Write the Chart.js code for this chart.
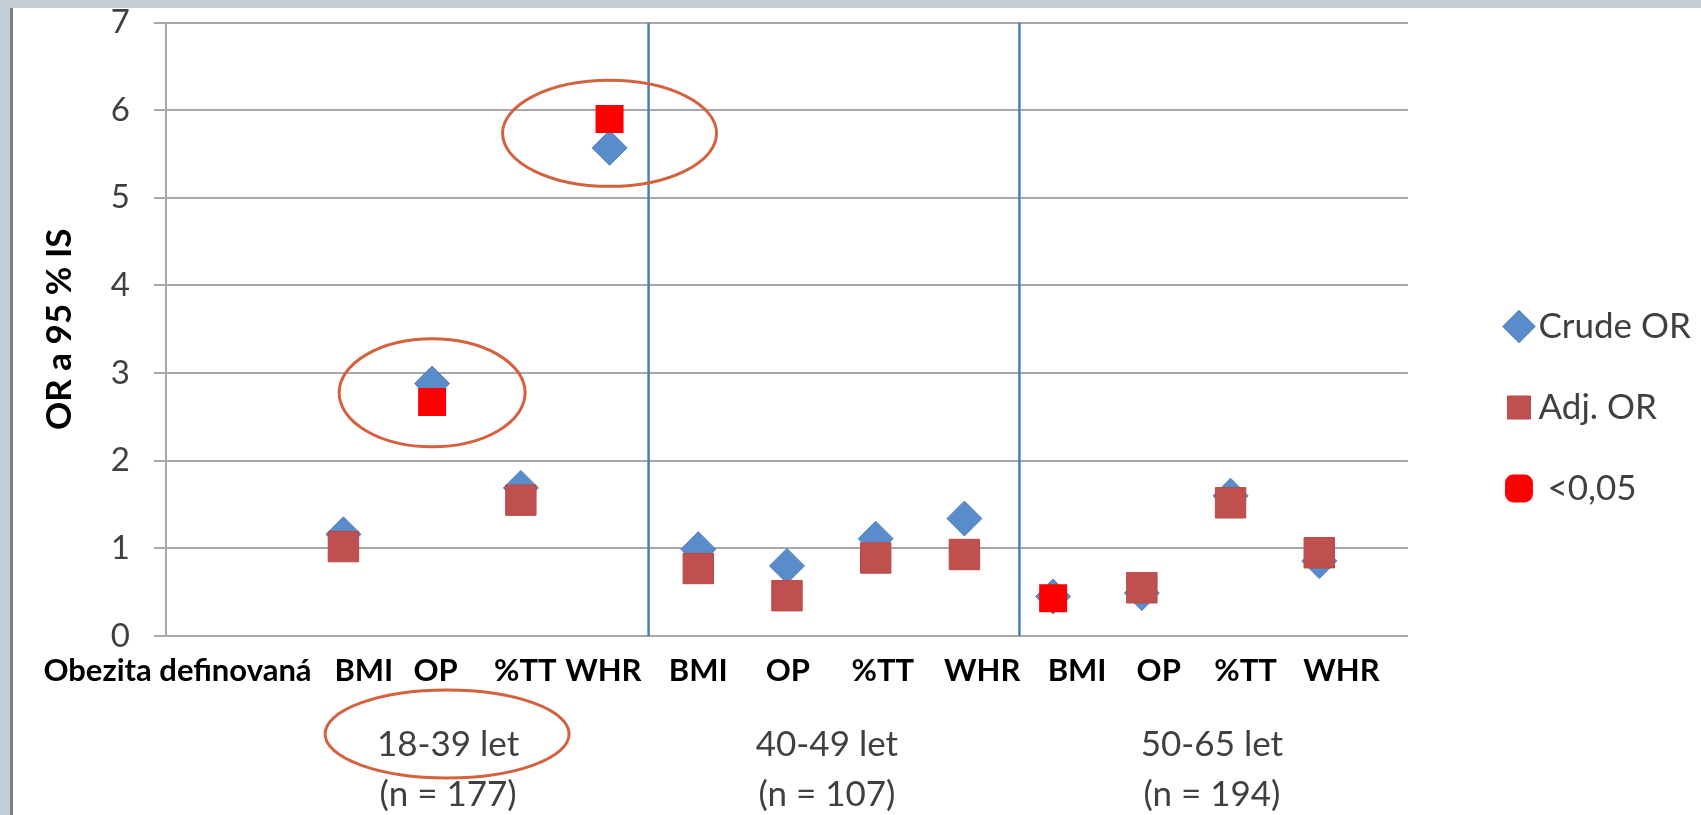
<!DOCTYPE html>
<html lang="cs">
<head>
<meta charset="utf-8">
<title>OR a 95 % IS podle definice obezity a věkové skupiny</title>
<script src="https://cdn.jsdelivr.net/npm/chart.js@4.4.1/dist/chart.umd.min.js"></script>
<style>
  html, body { margin: 0; padding: 0; width: 1701px; height: 815px; overflow: hidden; background: #c5cfd7; }
  #panel { position: absolute; left: 10px; top: 8px; right: 0; bottom: 0; background: #ffffff; border-left: 3px solid #7f7f7f; }
  #chart { position: absolute; left: 0; top: 0; }
</style>
</head>
<body>
<div id="panel"></div>
<canvas id="chart" width="1701" height="815"></canvas>
<script>
// ---- data -------------------------------------------------------------
const measures    = ['BMI', 'OP', '%TT', 'WHR', 'BMI', 'OP', '%TT', 'WHR', 'BMI', 'OP', '%TT', 'WHR'];
const crudeOR     = [1.16, 2.88, 1.69, 5.57, 0.99, 0.80, 1.11, 1.34, 0.45, 0.49, 1.60, 0.855];
const adjOR       = [1.02, 2.67, 1.55, 5.90, 0.77, 0.46, 0.89, 0.93, 0.43, 0.55, 1.52, 0.95];
const significant = [false, true, false, true, false, false, false, false, true, false, false, false];
const rowTitle    = 'Obezita definovaná';
const ageGroups   = [['18-39 let', '(n = 177)'], ['40-49 let', '(n = 107)'], ['50-65 let', '(n = 194)']];
const yTicks      = [0, 1, 2, 3, 4, 5, 6, 7];
const seriesNames = ['Crude OR', 'Adj. OR', '<0,05'];
const yTitle      = 'OR a 95 % IS';

// ---- layout on the x axis (axis units, 0..14) ---------------------------
const firstSlot     = 2;                       // two empty slots hold the row title
const xOf           = i => firstSlot + i;
const measureLabelX = [0.13, 2.23, 3.04, 4.05, 4.93, 6.0, 7.01, 8.08, 9.2, 10.27, 11.19, 12.17, 13.25];
const groupLabelX   = [3.18, 7.45, 11.79];
const dividerX      = [5.44, 9.62];
const circledGroup  = 0;                       // age group whose significant results are ringed

const FONT = 'Lato';
Chart.defaults.font.family = FONT;

const xTickLabels = [rowTitle].concat(measures);

// rings drawn round the highlighted results and their age-group label
const ringPlugin = {
  id: 'rings',
  afterDatasetsDraw(chart, args, opts) {
    const { ctx, scales, chartArea } = chart;
    ctx.save();
    ctx.strokeStyle = opts.color;
    ctx.lineWidth = opts.width;
    let k = 0;
    significant.forEach((s, i) => {
      if (!s || Math.floor(i / 4) !== circledGroup) return;
      const [rx, ry] = opts.pointRings[k++] || opts.pointRings[0];
      const cx = scales.x.getPixelForValue(xOf(i));
      const cy = scales.y.getPixelForValue((crudeOR[i] + adjOR[i]) / 2);
      ctx.beginPath();
      ctx.ellipse(cx, cy, rx, ry, 0, 0, Math.PI * 2);
      ctx.stroke();
    });
    const [lrx, lry] = opts.labelRing;
    const lx = scales.x2.getPixelForValue(groupLabelX[circledGroup]) - 1;
    const ly = chartArea.bottom + opts.labelRingDy;
    ctx.beginPath();
    ctx.ellipse(lx, ly, lrx, lry, 0, 0, Math.PI * 2);
    ctx.stroke();
    ctx.restore();
  }
};

const dividerSets = dividerX.map(d => ({
  type: 'line',
  label: 'divider',
  data: [{ x: d, y: 0 }, { x: d, y: yTicks[yTicks.length - 1] }],
  borderColor: '#4a7ebf',
  borderWidth: 2.5,
  pointRadius: 0,
  showLine: true,
  order: 10
}));

new Chart(document.getElementById('chart'), {
  type: 'scatter',
  data: {
    datasets: [
      {
        label: seriesNames[0],
        data: crudeOR.map((v, i) => ({ x: xOf(i), y: v })),
        pointStyle: 'rectRot',
        pointRadius: 17.5,
        backgroundColor: '#5a8bcb',
        borderColor: '#4f81bd',
        borderWidth: 1,
        order: 3
      },
      {
        label: seriesNames[1],
        data: adjOR.map((v, i) => ({ x: xOf(i), y: v })),
        pointStyle: 'rect',
        pointRadius: c => significant[c.dataIndex] ? 0 : 21.5,
        backgroundColor: '#c0504d',
        borderColor: '#b8494a',
        borderWidth: 1,
        order: 2
      },
      {
        label: seriesNames[2],
        data: adjOR.flatMap((v, i) => significant[i] ? [{ x: xOf(i), y: v }] : []),
        pointStyle: 'rect',
        pointRadius: 19.8,
        backgroundColor: '#ff0000',
        borderColor: '#ff0000',
        borderWidth: 0,
        order: 1
      },
      ...dividerSets
    ]
  },
  options: {
    responsive: false,
    animation: false,
    events: [],
    layout: { padding: { top: 0, left: 20, right: 0, bottom: 0 } },
    scales: {
      x: {
        type: 'linear',
        position: 'bottom',
        min: 0,
        max: 14,
        weight: 0,
        grid: { display: false, drawTicks: false },
        border: { display: false },
        afterBuildTicks: s => { s.ticks = measureLabelX.map(v => ({ value: v })); },
        afterFit: s => { s.height = 75; },
        ticks: {
          autoSkip: false,
          maxRotation: 0,
          padding: 16,
          color: '#000000',
          font: { family: FONT, size: 31, weight: 'bold' },
          callback: (v, i) => xTickLabels[i]
        }
      },
      x2: {
        type: 'linear',
        position: 'bottom',
        min: 0,
        max: 14,
        weight: 1,
        grid: { display: false, drawTicks: false },
        border: { display: false },
        afterBuildTicks: s => { s.ticks = groupLabelX.map(v => ({ value: v })); },
        afterFit: s => { s.height = 104; },
        ticks: {
          autoSkip: false,
          maxRotation: 0,
          padding: 9,
          color: '#404040',
          font: { family: FONT, size: 35, lineHeight: 1.43 },
          callback: (v, i) => ageGroups[i]
        }
      },
      y: {
        type: 'linear',
        position: 'left',
        min: 0,
        max: 7,
        afterBuildTicks: s => { s.ticks = yTicks.map(v => ({ value: v })); },
        afterFit: s => { s.width = 146; s.paddingTop = 22; s.paddingBottom = 0; },
        grid: { color: '#a8a8a8', lineWidth: 2, tickLength: 12, drawTicks: true },
        border: { display: true, color: '#a8a8a8', width: 2 },
        ticks: {
          padding: 24,
          color: '#404040',
          font: { family: FONT, size: 33 }
        },
        title: {
          display: true,
          text: yTitle,
          color: '#000000',
          font: { family: FONT, size: 35, weight: 'bold' },
          padding: { top: 19, bottom: 0 }
        }
      },
      legendGap: {
        type: 'linear',
        position: 'right',
        display: true,
        grid: { display: false, drawTicks: false },
        border: { display: false },
        ticks: { display: false },
        afterFit: s => { s.width = 63; s.paddingTop = 0; s.paddingBottom = 0; }
      }
    },
    plugins: {
      tooltip: { enabled: false },
      legend: {
        position: 'right',
        align: 'center',
        maxWidth: 234,
        labels: {
          usePointStyle: true,
          boxWidth: 4,
          boxHeight: 23,
          padding: 46,
          color: '#404040',
          font: { family: FONT, size: 35 },
          filter: item => item.datasetIndex < seriesNames.length,
          sort: (a, b) => a.datasetIndex - b.datasetIndex,
          generateLabels: chart => {
            const items = Chart.defaults.plugins.legend.labels.generateLabels(chart);
            items.forEach(it => {
              if (it.datasetIndex === 2) { it.pointStyle = 'rectRounded'; it.text = ' ' + it.text; }
            });
            return items;
          }
        }
      },
      rings: {
        color: '#d4623f',
        width: 3,
        pointRings: [[93, 54], [107, 53]],
        labelRing: [122, 44],
        labelRingDy: 98
      }
    }
  },
  plugins: [ringPlugin]
});
</script>
</body>
</html>
